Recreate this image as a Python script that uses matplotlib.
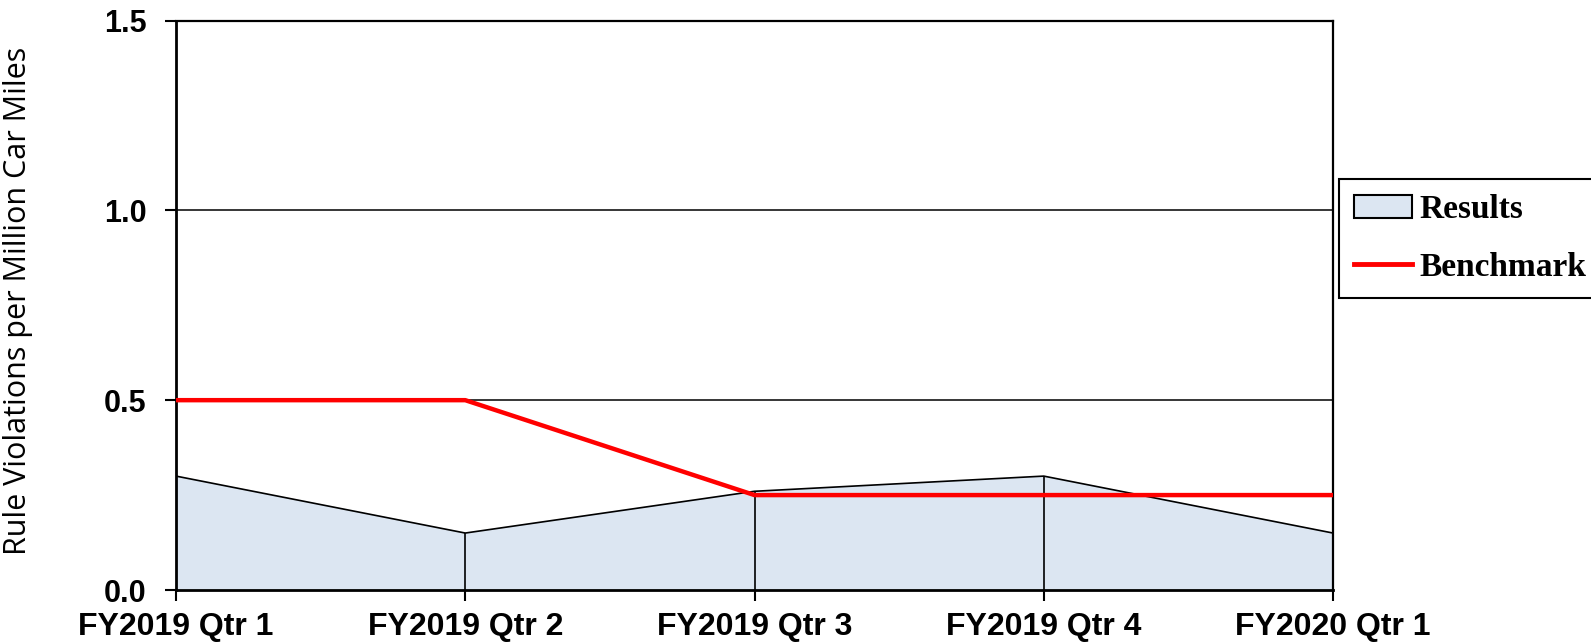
import matplotlib
matplotlib.use('Agg')
import matplotlib.pyplot as plt
from matplotlib.patches import Patch
from matplotlib.lines import Line2D

quarters = ['FY2019 Qtr 1', 'FY2019 Qtr 2', 'FY2019 Qtr 3', 'FY2019 Qtr 4', 'FY2020 Qtr 1']
results = [0.30, 0.15, 0.26, 0.30, 0.15]
benchmark = [0.50, 0.50, 0.25, 0.25, 0.25]

FILL = '#DCE6F2'
RED = '#FF0000'

fig = plt.figure(figsize=(15.91, 6.44), dpi=100)
ax = fig.add_axes([176 / 1591, 1 - 590 / 644, (1333 - 176) / 1591, (590 - 20.5) / 644])

x = list(range(len(quarters)))
ax.fill_between(x, 0, results, color=FILL, zorder=1)
ax.plot(x, results, color='black', lw=1.2, zorder=2)
ax.vlines(x, 0, results, color='black', lw=1.2, zorder=2)
ax.plot(x, benchmark, color=RED, lw=3.2, zorder=3, solid_capstyle='butt')

for y in [0.5, 1.0]:
    ax.axhline(y, color='black', lw=1.1, zorder=0)

ax.set_xlim(0, 4)
ax.set_ylim(0, 1.5)
ax.set_yticks([0.0, 0.5, 1.0, 1.5])
ax.set_yticklabels(['0.0', '0.5', '1.0', '1.5'], fontsize=22, fontweight='bold',
                   family='Liberation Sans')
ax.set_xticks(x)
ax.set_xticklabels(quarters, fontsize=23, fontweight='bold', family='Liberation Sans')
ax.tick_params(axis='both', direction='out', length=8, width=1.5, color='black')
ax.tick_params(axis='y', pad=13)
ax.tick_params(axis='x', pad=8)

for side in ['left', 'bottom']:
    ax.spines[side].set_linewidth(2)
for side in ['top', 'right']:
    ax.spines[side].set_linewidth(1.6)

ax.set_ylabel('Rule Violations per Million Car Miles', fontsize=22, family='Open Sans')
ax.yaxis.set_label_coords((33 - 176) / 1157, 0.507)

handles = [Patch(facecolor=FILL, edgecolor='black', lw=1.5),
           Line2D([0], [0], color=RED, lw=3.5)]
leg = fig.legend(handles, ['Results', 'Benchmark'], loc='upper left',
                 bbox_to_anchor=(1339 / 1591, 1 - 179 / 644), borderaxespad=0,
                 prop={'family': 'Liberation Serif', 'weight': 'bold', 'size': 24},
                 frameon=True, fancybox=False, edgecolor='black', framealpha=1,
                 borderpad=0.45, labelspacing=0.8, handlelength=1.75, handletextpad=0.2)
leg.get_frame().set_linewidth(1.5)

fig.savefig('out.png', dpi=100)
